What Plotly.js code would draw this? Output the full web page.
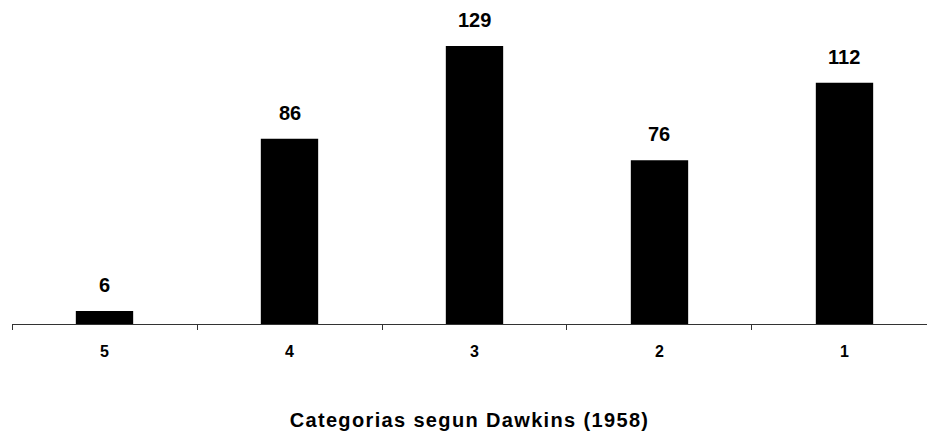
<!DOCTYPE html>
<html>
<head>
<meta charset="utf-8">
<script src="https://cdn.plot.ly/plotly-3.0.1.min.js"></script>
<style>
html, body { margin: 0; padding: 0; background: #fff; }
#chart { width: 927px; height: 435px; }
.xtitle { letter-spacing: 1.35px; }
</style>
</head>
<body>
<div id="chart"></div>
<script>
var categories = ["5", "4", "3", "2", "1"];
var counts = [6, 86, 129, 76, 112];
var axisTitle = "Categorias segun Dawkins (1958)";

var fontFamily = "Arial, 'Liberation Sans', Helvetica, sans-serif";

var trace = {
  type: "bar",
  x: categories,
  y: counts,
  width: 0.31,
  marker: { color: "#000000", line: { width: 0 } },
  hoverinfo: "none"
};

var annotations = categories.map(function (c, i) {
  return {
    x: i,
    y: counts[i],
    xref: "x",
    yref: "y",
    text: String(counts[i]),
    showarrow: false,
    yanchor: "bottom",
    yshift: 13,
    font: { family: fontFamily, size: 20, color: "#000", weight: "bold" }
  };
});

var layout = {
  width: 927,
  height: 435,
  margin: { l: 12, r: 0, t: 20, b: 111 },
  paper_bgcolor: "#ffffff",
  plot_bgcolor: "#ffffff",
  showlegend: false,
  font: { family: fontFamily, color: "#000" },
  xaxis: {
    type: "category",
    range: [-0.5, 4.446],
    showline: true,
    linecolor: "#333333",
    linewidth: 1,
    ticks: "outside",
    tickson: "boundaries",
    ticklen: 5,
    tickcolor: "#333333",
    tickwidth: 1,
    showgrid: false,
    zeroline: false,
    ticklabelstandoff: 13,
    tickfont: { family: fontFamily, size: 16, color: "#000", weight: "bold" },
    title: {
      text: axisTitle,
      standoff: 53,
      font: { family: fontFamily, size: 20, color: "#000", weight: "bold" }
    },
    fixedrange: true
  },
  yaxis: {
    range: [0, 141.07],
    visible: false,
    showgrid: false,
    zeroline: false,
    fixedrange: true
  },
  annotations: annotations
};

Plotly.newPlot("chart", [trace], layout, { displayModeBar: false, staticPlot: true });
</script>
</body>
</html>
